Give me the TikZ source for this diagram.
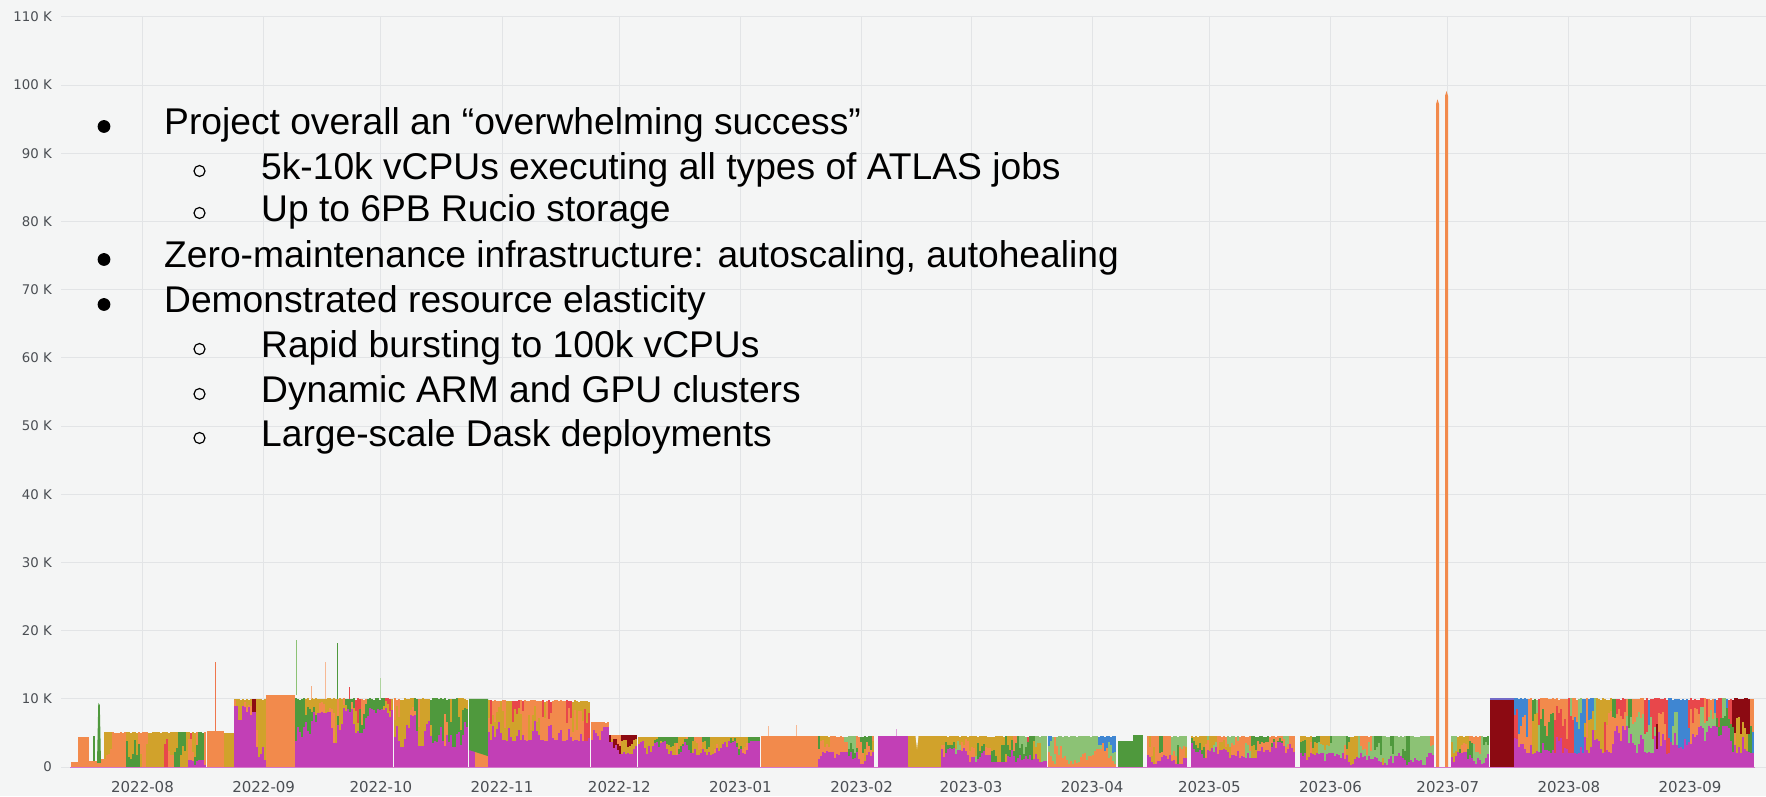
\documentclass[tikz,border=0pt]{standalone}
\usepackage{fontspec}
\setmainfont{Liberation Sans}
\newfontfamily\axisfont{DejaVu Sans}
\definecolor{bgc}{HTML}{F4F5F5}
\definecolor{gridc}{HTML}{E2E4E6}
\definecolor{axc}{HTML}{4A4E53}
\definecolor{mag}{HTML}{C23FB6}
\definecolor{orng}{HTML}{F28A4C}
\definecolor{gold}{HTML}{D1A22B}
\definecolor{grn}{HTML}{4F993D}
\definecolor{lgrn}{HTML}{8CC275}
\definecolor{redc}{HTML}{E8474B}
\definecolor{dred}{HTML}{8C0A12}
\definecolor{bluec}{HTML}{3F86D2}
\newcommand\bigtxt{\fontsize{37.2}{41}\selectfont}
\newcommand\ytxt{\axisfont\fontsize{13.3}{15}\selectfont}
\newcommand\xtxt{\axisfont\fontsize{15}{17}\selectfont}
\pgfmathsetseed{12345}
\pgfmathdeclarerandomlist{LA}{{orng}{gold}{grn}{orng}{gold}{redc}}
\pgfmathdeclarerandomlist{LB}{{orng}{gold}{orng}}
\pgfmathdeclarerandomlist{LC}{{gold}{grn}{orng}{gold}{grn}}
\pgfmathdeclarerandomlist{LD}{{grn}{gold}{orng}{redc}{grn}}
\pgfmathdeclarerandomlist{LE}{{orng}{gold}{orng}{redc}{gold}}
\pgfmathdeclarerandomlist{LF}{{dred}{orng}{gold}{dred}}
\pgfmathdeclarerandomlist{LG}{{gold}{grn}{orng}{grn}{gold}}
\pgfmathdeclarerandomlist{LH}{{orng}{gold}{grn}{lgrn}}
\pgfmathdeclarerandomlist{LI}{{grn}{gold}{redc}{orng}{grn}{lgrn}}
\pgfmathdeclarerandomlist{LJ}{{lgrn}{bluec}{lgrn}{orng}{lgrn}}
\pgfmathdeclarerandomlist{LK}{{orng}{grn}{orng}{gold}{lgrn}}
\pgfmathdeclarerandomlist{LL}{{lgrn}{grn}{orng}{gold}{lgrn}}
\pgfmathdeclarerandomlist{LM}{{orng}{redc}{gold}{lgrn}{dred}{orng}{bluec}{grn}{redc}{orng}}
\newcommand\curA{orng}
\newcommand\curB{gold}
\newcommand\curF{0.5}
% #1 x0, #2 x1, #3 total (K), #4 low frac, #5 high frac, #6 list, #7 bottom colour
\newcommand\mixseg[7]{%
  \pgfmathrandomitem{\vC}{#6}\xdef\curA{\vC}%
  \pgfmathrandomitem{\vC}{#6}\xdef\curB{\vC}%
  \pgfmathsetmacro\vF{(#4+#5)/2}\xdef\curF{\vF}%
  \pgfmathtruncatemacro\vN{((#2)-(#1))/2-1}%
  \foreach \i in {0,...,\vN}{%
    \pgfmathsetmacro\vX{#1+2*\i}%
    \pgfmathsetmacro\vT{#3*(1+0.03*(rnd-0.5))}%
    \pgfmathsetmacro\vF{max(#4,min(#5,\curF+0.5*(rnd-0.5)))}%
    \xdef\curF{\vF}%
    \pgfmathtruncatemacro\vS{rnd<0.3}%
    \ifnum\vS=1 \pgfmathrandomitem{\vC}{#6}\xdef\curA{\vC}\fi
    \pgfmathtruncatemacro\vS{rnd<0.3}%
    \ifnum\vS=1 \pgfmathrandomitem{\vC}{#6}\xdef\curB{\vC}\fi
    \pgfmathsetmacro\vA{\vT*\vF}%
    \pgfmathsetmacro\vB{\vA+(\vT-\vA)*(0.2+0.6*rnd)}%
    \fill[#7] (\vX,0) rectangle ({\vX+2.3},\vA);
    \fill[\curA] (\vX,\vA) rectangle ({\vX+2.3},\vB);
    \fill[\curB] (\vX,\vB) rectangle ({\vX+2.3},\vT);
  }%
}
\tikzset{
  gridline/.style={draw=gridc, line width=0.9pt},
  ylab/.style={anchor=east, text=axc, font=\ytxt, inner sep=0pt},
  xlab/.style={anchor=center, text=axc, font=\xtxt, inner sep=0pt},
  bigtext/.style={anchor=base west, text=black, font=\bigtxt, inner sep=0pt},
  spikeline/.style={line width=1pt},
}
\begin{document}
\begin{tikzpicture}[x=1pt,y=1pt]
\useasboundingbox (0,0) rectangle (1766,796);
\fill[bgc] (0,0) rectangle (1766,796);
\begin{scope}[shift={(0,29)},y=6.82pt]
  % grid
  \foreach \v in {0,10,...,110}{\draw[gridline] (61,\v) -- (1766,\v);}
  \foreach \xm in {142.5,263.7,380.9,502,619.3,740.4,861.6,971,1092.1,1209.4,1330.5,1447.8,1568.9,1690}{%
    \draw[gridline] (\xm,0) -- (\xm,110);}
  % y labels
  \node[ylab] (y0) at (52,0) {0};
  \foreach \v in {10,20,...,110}{\node[ylab] (y\v) at (52,\v) {\v\ K};}
  % ---- data ----
  \fill[orng] (71,0) rectangle (78,0.7);
  \fill[orng] (78,0) rectangle (89,4.4);
  \fill[orng] (89,0) rectangle (97,0.9);
  \fill[grn] (93,0.9) rectangle (94.6,4.5);
  \fill[orng] (97,0) rectangle (101,0.6);
  \fill[grn] (97,0.6) -- (98.3,9.4) -- (99.8,9.1) -- (101,0.6) -- cycle;
  \fill[orng] (101,0) rectangle (104,1.2);
  \mixseg{104}{188}{5.1}{0}{0}{LA}{mag}
  \mixseg{188}{207}{5.1}{0.05}{0.2}{LA}{mag}
  \fill[orng] (207,0) rectangle (224,5.3);
  \fill[gold] (224,0) rectangle (234.2,5.0);
  \draw[spikeline, orng!70!redc] (215,5.3) -- (215,15.4);
  \mixseg{234}{252}{9.9}{0.7}{0.9}{LB}{mag}
  \fill[mag] (252,0) rectangle (256.2,8);
  \fill[dred] (252,8) rectangle (256.2,9.9);
  \mixseg{256}{266}{9.9}{0}{0.3}{LB}{mag}
  \fill[orng] (266,0) rectangle (295,10.5);
  \mixseg{295}{337}{10}{0.3}{0.8}{LC}{mag}
  \mixseg{337}{394}{10}{0.5}{0.85}{LD}{mag}
  \mixseg{394}{469}{10}{0.3}{0.75}{LC}{mag}
  \fill[mag] (469,0) rectangle (475,2.5);
  \fill[orng] (475,0) rectangle (488,2.5);
  \fill[grn] (469,2.5) -- (469,10) -- (488,10) -- (488,1.6) -- cycle;
  \mixseg{488}{591}{9.7}{0.4}{0.85}{LE}{mag}
  \mixseg{591}{609}{6.6}{0.6}{0.9}{LB}{mag}
  \mixseg{609}{638}{4.7}{0.4}{0.8}{LF}{mag}
  \mixseg{638}{761}{4.4}{0.4}{0.85}{LG}{mag}
  \fill[orng] (761,0) rectangle (818,4.6);
  \draw[spikeline, orng!60] (768,4.6) -- (768,6.0);
  \draw[spikeline, orng!60] (796,4.6) -- (796,6.2);
  \mixseg{818}{874}{4.5}{0.1}{0.5}{LH}{mag}
  \fill[mag] (878,0) rectangle (908,4.5);
  \draw[spikeline, mag!50] (896,4.5) -- (896,5.5);
  \fill[gold] (908,0) rectangle (941,4.5);
  \fill[bgc] (915.5,4.6) -- (917,2.6) -- (918.5,4.6) -- cycle;
  \mixseg{941}{1048}{4.5}{0.15}{0.6}{LI}{mag}
  \mixseg{1048}{1117}{4.5}{0.1}{0.6}{LJ}{orng}
  \fill[grn] (1118,0) rectangle (1134,3.8);
  \fill[grn] (1133,0) rectangle (1143,4.7);
  \mixseg{1147}{1187}{4.5}{0.1}{0.4}{LH}{mag}
  \mixseg{1191}{1296}{4.5}{0.3}{0.8}{LK}{mag}
  \mixseg{1300}{1434}{4.5}{0.05}{0.45}{LL}{mag}
  \fill[orng] (1436,0) -- (1436,97.2) -- (1437.5,97.9) -- (1439,97.2) -- (1439,0) -- cycle;
  \fill[orng] (1445,0) -- (1445,98.4) -- (1446.5,99.1) -- (1448,98.4) -- (1448,0) -- cycle;
  \mixseg{1451}{1489}{4.5}{0.1}{0.5}{LH}{mag}
  \fill[dred] (1490,0) rectangle (1514,10.1);
  \fill[bluec!60!mag] (1490,9.8) rectangle (1514,10.1);
  \mixseg{1514}{1755}{10}{0.2}{0.6}{LM}{mag}
  % thin spikes above the stack
  \draw[spikeline, lgrn] (296,10.5) -- (296,18.6);
  \draw[spikeline, orng!70] (311,10) -- (311,11.9);
  \draw[spikeline, orng!60] (325,10) -- (325,15.4);
  \draw[spikeline, grn] (337,10) -- (337,18.2);
  \draw[spikeline, redc] (349,10) -- (349,11.7);
  \draw[spikeline, lgrn!70] (380,10) -- (380,13);
  \draw[mag!70, line width=0.8pt] (70,0) -- (1755,0);
\end{scope}
% month labels
\foreach \xm/\lab [count=\k] in {142.5/2022-08,263.7/2022-09,380.9/2022-10,502/2022-11,619.3/2022-12,740.4/2023-01,861.6/2023-02,971/2023-03,1092.1/2023-04,1209.4/2023-05,1330.5/2023-06,1447.8/2023-07,1568.9/2023-08,1690/2023-09}{%
  \node[xlab] (m\k) at (\xm,9.3) {\lab};}
% bullet text
\node[bigtext] (t1) at (164,661) {Project overall an “overwhelming success”};
\node[bigtext] (t2) at (261,616) {5k-10k vCPUs executing all types of ATLAS jobs};
\node[bigtext] (t3) at (261,574) {Up to 6PB Rucio storage};
\node[bigtext] (t4) at (164,528) {Zero-maintenance infrastructure: autoscaling, autohealing};
\node[bigtext] (t5) at (164,483) {Demonstrated resource elasticity};
\node[bigtext] (t6) at (261,438) {Rapid bursting to 100k vCPUs};
\node[bigtext] (t7) at (261,393) {Dynamic ARM and GPU clusters};
\node[bigtext] (t8) at (261,349) {Large-scale Dask deployments};
\fill[black] (104,669.5) circle (6.4);
\fill[black] (104,536.5) circle (6.4);
\fill[black] (104,491.5) circle (6.4);
\foreach \yb in {616,574,438,393,349}{\draw[black, line width=1.2pt] (199.5,\yb+9) circle (5.5);}
\end{tikzpicture}
\end{document}
